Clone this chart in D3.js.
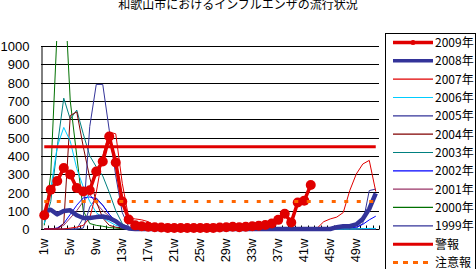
<!DOCTYPE html>
<html>
<head>
<meta charset="utf-8">
<script src="https://cdn.jsdelivr.net/npm/d3@7"></script>
<style>
    body { margin: 0; background: #fff; }
    svg { display: block; font-family: "Liberation Sans", Arial, sans-serif; }
    .jp { font-family: "Noto Sans CJK JP", sans-serif; }
</style>
</head>
<body>
<div id="chart"></div>
<script>
// weeks 1w..52w
var weeks = d3.range(1, 53).map(function (w) { return w + "w"; });
var yTicks = [0, 100, 200, 300, 400, 500, 600, 700, 800, 900, 1000];

// values per week
var y2009 = [75, 215, 262, 333, 298, 224, 205, 212, 314, 369, 505, 363, 150, 52, 20, 15, 12, 10, 8, 6,
    5, 5, 5, 5, 5, 6, 6, 8, 10, 12, 10, 12, 15, 18, 22, 30, 50, 83, 36, 145,
    155, 240, null, null, null, null, null, null, null, null, null, null];
var y2008 = [95, 105, 80, 98, 102, 75, 60, 60, 65, 68, 60, 42, 15, 3, 0, 0, 0, 0, 0, 0,
    0, 0, 0, 0, 0, 0, 0, 0, 0, 0, 0, 0, 0, 0, 0, 0, 0, 0, 0, 0,
    0, 0, 0, 0, 0, 10, 15, 15, 25, 55, 110, 195];
var y2007 = [0, 0, 0, 0, 5, 10, 20, 60, 200, 400, 530, 520, 250, 60, 55, 50, 40, 15, 3, 0,
    0, 0, 0, 0, 0, 0, 0, 0, 0, 0, 0, 0, 0, 0, 0, 0, 0, 0, 0, 0,
    0, 0, 5, 40, 55, 65, 90, 210, 300, 355, 375, 205];
var y2006 = [30, 220, 450, 555, 480, 330, 230, 150, 90, 60, 40, 20, 10, 5, 0, 0, 0, 0, 0, 0,
    0, 0, 0, 0, 0, 0, 0, 0, 0, 0, 0, 0, 0, 0, 0, 0, 0, 0, 0, 0,
    0, 0, 0, 0, 0, 0, 0, 0, 0, 2, 3, 3];
var y2005 = [0, 0, 0, 0, 0, 0, 60, 560, 790, 790, 540, 290, 90, 10, 0, 0, 0, 0, 0, 0,
    0, 0, 0, 0, 0, 0, 0, 0, 0, 0, 0, 0, 0, 0, 0, 0, 0, 0, 0, 0,
    0, 0, 0, 0, 0, 0, 0, 0, 0, 0, 0, 0];
var y2004 = [0, 0, 0, 30, 620, 640, 450, 280, 150, 60, 20, 10, 5, 0, 0, 0, 0, 0, 0, 0,
    0, 0, 0, 0, 0, 0, 0, 0, 0, 0, 0, 0, 0, 0, 0, 0, 0, 0, 0, 0,
    0, 0, 0, 0, 0, 0, 0, 0, 0, 0, 0, 0];
var y2003 = [30, 150, 450, 715, 600, 650, 520, 400, 340, 290, 200, 100, 30, 5, 0, 0, 0, 0, 0, 0,
    0, 0, 0, 0, 0, 0, 0, 0, 0, 0, 0, 0, 0, 0, 0, 0, 0, 0, 0, 0,
    0, 0, 0, 0, 0, 0, 0, 0, 0, 0, 0, 0];
var y2002 = [0, 0, 5, 30, 80, 130, 170, 175, 165, 130, 80, 40, 10, 0, 0, 0, 0, 0, 0, 0,
    0, 0, 0, 0, 0, 0, 0, 0, 0, 0, 0, 0, 0, 0, 0, 0, 0, 0, 0, 0,
    0, 0, 0, 0, 0, 0, 0, 5, 10, 25, 50, 70];
var y2001 = [0, 0, 5, 20, 60, 100, 150, 190, 140, 100, 70, 40, 15, 5, 0, 0, 0, 0, 0, 0,
    0, 0, 0, 0, 0, 0, 0, 0, 0, 0, 0, 0, 0, 0, 0, 0, 0, 0, 0, 0,
    0, 0, 0, 0, 0, 0, 0, 0, 0, 0, 0, 0];
var y2000 = [20, 300, 1100, 1400, 700, 400, 100, 30, 20, 15, 8, 5, 2, 0, 0, 0, 0, 0, 0, 0,
    0, 0, 0, 0, 0, 0, 0, 0, 0, 0, 0, 0, 0, 0, 0, 0, 0, 0, 0, 0,
    0, 0, 0, 0, 0, 3, 5, 3, 0, 0, 0, 0];
var y1999 = [0, 0, 0, 0, 0, 0, 5, 120, 170, 130, 80, 40, 10, 0, 0, 0, 0, 0, 0, 0,
    0, 0, 0, 0, 0, 0, 0, 0, 0, 0, 0, 0, 0, 0, 0, 0, 0, 0, 0, 0,
    0, 0, 0, 0, 0, 0, 0, 0, 5, 30, 210, 218];
var warning = 450;   // 警報
var advisory = 150;  // 注意報

var series = [
    { name: "2009年", values: y2009, color: "#e00000", width: 3.5, marker: true },
    { name: "2008年", values: y2008, color: "#333399", width: 4.5 },
    { name: "2007年", values: y2007, color: "#e00000", width: 1 },
    { name: "2006年", values: y2006, color: "#00ccff", width: 1 },
    { name: "2005年", values: y2005, color: "#333399", width: 1 },
    { name: "2004年", values: y2004, color: "#800000", width: 1 },
    { name: "2003年", values: y2003, color: "#008080", width: 1 },
    { name: "2002年", values: y2002, color: "#0000ff", width: 1 },
    { name: "2001年", values: y2001, color: "#993366", width: 1 },
    { name: "2000年", values: y2000, color: "#007000", width: 1 },
    { name: "1999年", values: y1999, color: "#333399", width: 1 },
    { name: "警報", values: weeks.map(function () { return warning; }), color: "#e00000", width: 3 },
    { name: "注意報", values: weeks.map(function () { return advisory; }), color: "#ff6600", width: 3, dash: "4,8.5" }
];

var width = 476,
    height = 269;

var svg = d3.select("#chart")
    .append("svg")
    .attr("width", width)
    .attr("height", height);

var x = d3.scaleBand().domain(weeks).range([41, 379]);
var y = d3.scaleLinear().domain([0, 1000]).range([229, 46]);

function cx(i) { return x(weeks[i]) + x.bandwidth() / 2; }

// title (its top is cut off in the original too)
svg.append("text")
    .attr("class", "jp")
    .attr("x", 238)
    .attr("y", 9)
    .attr("text-anchor", "middle")
    .style("font-size", "12px")
    .text("和歌山市におけるインフルエンザの流行状況");

// gridlines
svg.append("g")
    .selectAll("line")
    .data(yTicks)
    .enter().append("line")
    .attr("x1", 41)
    .attr("x2", 379)
    .attr("y1", function (d) { return Math.round(y(d)) + 0.5; })
    .attr("y2", function (d) { return Math.round(y(d)) + 0.5; })
    .attr("stroke", "#000")
    .attr("stroke-width", 1);

// y axis
var yAxis = svg.append("g")
    .attr("transform", "translate(41.5,0.5)")
    .call(d3.axisLeft(y).tickValues(yTicks).tickFormat(d3.format("d"))
        .tickSize(0).tickPadding(12).tickSizeOuter(0));
yAxis.select(".domain").attr("stroke", "#000");
yAxis.selectAll("text").style("font-size", "13px").attr("fill", "#000");

// x axis: inner ticks on category borders, labels every 4 weeks
var xAxis = svg.append("g").attr("transform", "translate(0,229.5)");
xAxis.append("line")
    .attr("x1", 41).attr("x2", 379)
    .attr("stroke", "#000");
xAxis.selectAll(".tk")
    .data(weeks)
    .enter().append("line")
    .attr("class", "tk")
    .attr("x1", function (d) { return Math.round(x(d) + x.bandwidth()) + 0.5; })
    .attr("x2", function (d) { return Math.round(x(d) + x.bandwidth()) + 0.5; })
    .attr("y1", 0)
    .attr("y2", -4)
    .attr("stroke", "#000");
xAxis.selectAll(".lb")
    .data(weeks.filter(function (d, i) { return i % 4 === 0; }))
    .enter().append("text")
    .attr("class", "lb")
    .attr("transform", function (d) {
        return "translate(" + (x(d) + x.bandwidth() / 2 - 1) + ",9) rotate(-90)";
    })
    .attr("text-anchor", "end")
    .attr("dy", "0.35em")
    .style("font-size", "13px")
    .text(function (d) { return d; });

// clip for values above 1000
svg.append("clipPath")
    .attr("id", "plot")
    .append("rect")
    .attr("x", 38).attr("y", 41)
    .attr("width", 345).attr("height", 200);

var line = d3.line()
    .defined(function (d) { return d !== null; })
    .x(function (d, i) { return cx(i); })
    .y(function (d) { return y(d); });

var plot = svg.append("g").attr("clip-path", "url(#plot)");

// thin years first, then 2008, 2009, then the alert levels
var order = [10, 9, 8, 7, 6, 5, 4, 3, 2, 1, 0, 11, 12];
order.forEach(function (k) {
    var s = series[k];
    plot.append("path")
        .datum(s.values)
        .attr("d", line)
        .attr("fill", "none")
        .attr("stroke", s.color)
        .attr("stroke-width", s.width)
        .attr("stroke-dasharray", s.dash || null)
        .attr("stroke-linejoin", "round");
    if (s.marker) {
        plot.selectAll(".m")
            .data(s.values.map(function (v, i) { return { v: v, i: i }; })
                .filter(function (d) { return d.v !== null; }))
            .enter().append("circle")
            .attr("class", "m")
            .attr("cx", function (d) { return cx(d.i); })
            .attr("cy", function (d) { return y(d.v); })
            .attr("r", 5)
            .attr("fill", s.color);
    }
});

// legend
var legend = svg.append("g");
legend.append("rect")
    .attr("x", 385.5).attr("y", 33.5)
    .attr("width", 90).attr("height", 250)
    .attr("fill", "#fff")
    .attr("stroke", "#000");

var item = legend.selectAll(".item")
    .data(series)
    .enter().append("g")
    .attr("class", "item")
    .attr("transform", function (d, i) { return "translate(0," + (42.5 + i * 18.33) + ")"; });

item.append("line")
    .attr("x1", 393).attr("x2", 433)
    .attr("stroke", function (d) { return d.color; })
    .attr("stroke-width", function (d) { return d.width > 2 ? Math.min(d.width, 3.5) : 1.2; })
    .attr("stroke-dasharray", function (d) { return d.dash ? "5,5" : null; });

item.filter(function (d) { return d.marker; })
    .append("circle")
    .attr("cx", 413).attr("r", 2.5)
    .attr("fill", function (d) { return d.color; });

item.append("text")
    .attr("class", "jp")
    .attr("x", 435)
    .attr("y", 4.5)
    .style("font-size", "12px")
    .text(function (d) { return d.name; });
</script>
</body>
</html>
